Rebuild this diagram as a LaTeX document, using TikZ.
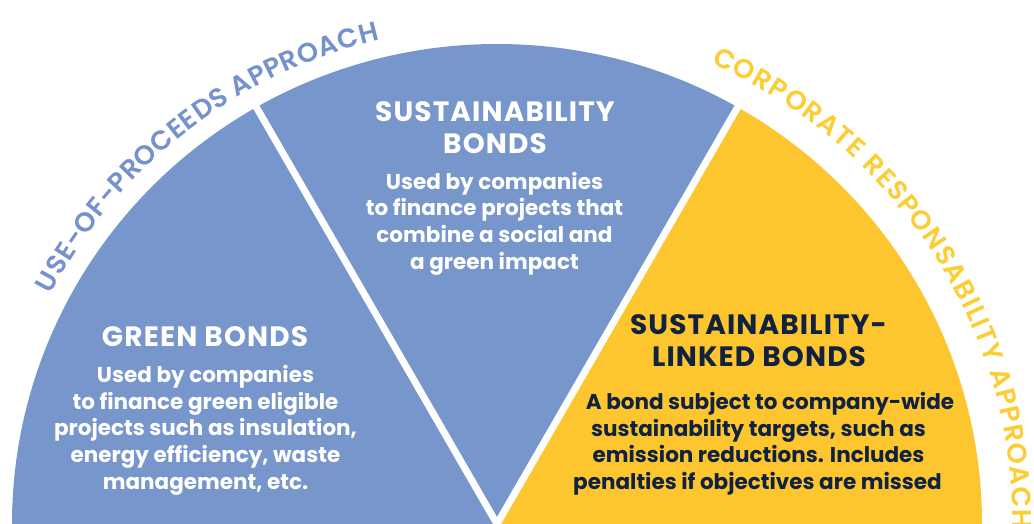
\documentclass[tikz,border=0pt]{standalone}
\usepackage{fontspec}
\setmainfont{Poppins}
\newfontfamily\curvefont{Poppins SemiBold}
\newfontfamily\headfam{Poppins Bold}[LetterSpace=4]
\usetikzlibrary{decorations.text}
\definecolor{bluefill}{RGB}{119,150,204}
\definecolor{yellowfill}{RGB}{253,198,46}
\definecolor{curveblue}{RGB}{117,146,204}
\definecolor{curveyellow}{RGB}{253,205,52}
\definecolor{navy}{RGB}{16,34,64}
\newcommand\hdfont{\headfam\fontsize{28}{28}\selectfont}
\newcommand\bdfont{\bfseries\fontsize{21.5}{21.5}\selectfont}
\tikzset{
  head/.style={font=\hdfont, text=white, anchor=base, inner sep=0pt},
  body/.style={font=\bdfont, text=white, anchor=base, inner sep=0pt},
  gap/.style={draw=white, line width=7pt},
}
\begin{document}
\begin{tikzpicture}[x=1pt,y=1pt]
\useasboundingbox (0,0) rectangle (1034,524);
\fill[white] (0,0) rectangle (1034,524);
\coordinate (c) at (497,0);
% sectors
\fill[bluefill] (c) -- ([shift={(120:485 and 480)}]c) arc[start angle=120,end angle=180,x radius=485,y radius=480] -- cycle;
\fill[bluefill] (c) -- ([shift={(60:485 and 480)}]c) arc[start angle=60,end angle=120,x radius=485,y radius=480] -- cycle;
\fill[yellowfill] (c) -- ([shift={(0:485 and 480)}]c) arc[start angle=0,end angle=60,x radius=485,y radius=480] -- cycle;
% gaps
\coordinate (g1) at ([shift={(60:492)}]c);
\coordinate (g2) at ([shift={(120:492)}]c);
\draw[gap] (c) -- (g1);
\draw[gap] (c) -- (g2);
% curved labels
\path[decorate, decoration={text along path, text align=fit to path,
  text={|\curvefont\fontsize{27}{27}\selectfont\color{curveblue}|USE-OF-PROCEEDS APPROACH}}]
  ([shift={(152.5:503 and 498)}]c) arc[start angle=152.5,end angle=103.5,x radius=503,y radius=498];
\path[decorate, decoration={text along path, text align=fit to path,
  text={|\curvefont\fontsize{27}{27}\selectfont\color{curveyellow}|CORPORATE RESPONSABILITY APPROACH}}]
  ([shift={(65.5:516 and 506)}]c) arc[start angle=65.5,end angle=-0.5,x radius=516,y radius=506];
% middle sector
\node[head] (mh1) at (495,402) {SUSTAINABILITY};
\node[head] (mh2) at (495,370) {BONDS};
\node[body] (mb1) at (494.5,334) {Used by companies};
\node[body] (mb2) at (494.5,308) {to finance projects that};
\node[body] (mb3) at (494.5,281) {combine a social and};
\node[body] (mb4) at (494.5,254) {a green impact};
% left sector
\node[head] (lh) at (205,177) {GREEN BONDS};
\node[body] (lb1) at (205.5,141) {Used by companies};
\node[body] (lb2) at (205.5,114) {to finance green eligible};
\node[body] (lb3) at (205.5,88) {projects such as insulation,};
\node[body] (lb4) at (205.5,61) {energy efficiency, waste};
\node[body] (lb5) at (205.5,34) {management, etc.};
% right sector
\node[head, text=navy] (rh1) at (758.5,189) {SUSTAINABILITY-};
\node[head, text=navy] (rh2) at (759,157) {LINKED BONDS};
\node[body, text=navy] (rb1) at (770,114) {A bond subject to company-wide};
\node[body, text=navy] (rb2) at (758.5,87) {sustainability targets, such as};
\node[body, text=navy] (rb3) at (758.5,61) {emission reductions. Includes};
\node[body, text=navy] (rb4) at (757.5,34) {penalties if objectives are missed};
\end{tikzpicture}
\end{document}
